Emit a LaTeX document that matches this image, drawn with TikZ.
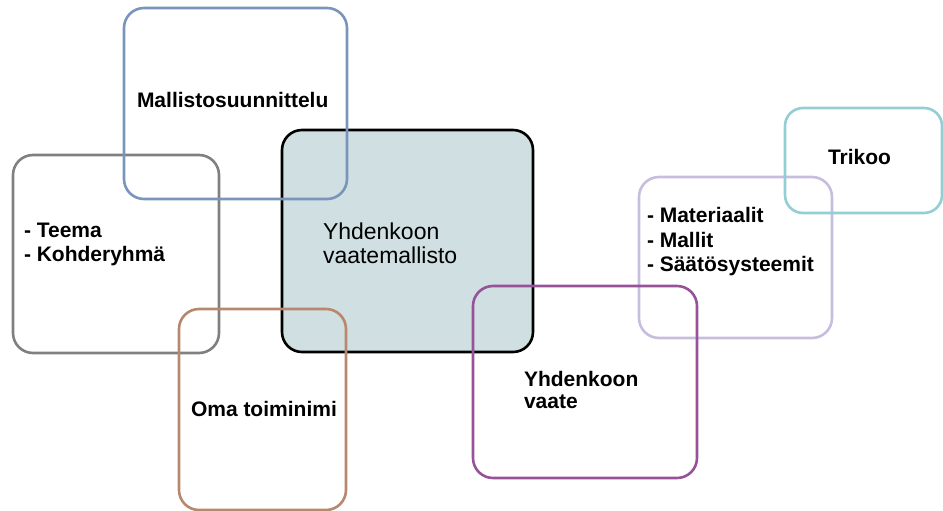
\documentclass[tikz,border=0pt]{standalone}
\usepackage{fontspec}
\setmainfont{Liberation Sans}
\definecolor{cblue}{RGB}{122,148,186}
\definecolor{cgray}{RGB}{128,128,128}
\definecolor{cfill}{RGB}{207,223,226}
\definecolor{cbrown}{RGB}{183,136,110}
\definecolor{cpurple}{RGB}{152,82,154}
\definecolor{clav}{RGB}{198,190,220}
\definecolor{ccyan}{RGB}{146,206,212}
\tikzset{
  box/.style={draw, line width=2.6pt, rounded corners=20pt, inner sep=0pt, outer sep=0pt, anchor=north west},
  lbl/.style={inner sep=0pt, outer sep=0pt, anchor=base west, font=\fontsize{21}{25}\selectfont\bfseries},
  clbl/.style={inner sep=0pt, outer sep=0pt, anchor=base west, font=\fontsize{23}{25}\selectfont},
}
\begin{document}
\begin{tikzpicture}[x=1pt,y=-1pt]
\useasboundingbox (0,0) rectangle (943,511);
% center box
\node[box, draw=black, fill=cfill, minimum width=251pt, minimum height=222pt] (c) at (282,130) {};
% other boxes
\node[box, draw=cgray, minimum width=206pt, minimum height=198pt] (t) at (13,155) {};
\node[box, draw=cblue, minimum width=223pt, minimum height=191pt] (m) at (124,8) {};
\node[box, draw=cbrown, minimum width=167pt, minimum height=201pt] (o) at (179,309) {};
\node[box, draw=clav, minimum width=193pt, minimum height=161pt] (ma) at (639,177) {};
\node[box, draw=cpurple, minimum width=224pt, minimum height=192pt] (v) at (473,286) {};
\node[box, draw=ccyan, rounded corners=18pt, minimum width=157pt, minimum height=105pt] (tr) at (785,108) {};
% texts
\node[lbl] (mt) at (137,107) {Mallistosuunnittelu};
\node[lbl] (t1) at (24,237) {- Teema};
\node[lbl] (t2) at (24,261) {- Kohderyhmä};
\node[clbl] (c1) at (323,239) {Yhdenkoon};
\node[clbl] (c2) at (323,263) {vaatemallisto};
\node[lbl] (ot) at (191,416) {Oma toiminimi};
\node[lbl] (v1) at (524,386) {Yhdenkoon};
\node[lbl] (v2) at (524,408) {vaate};
\node[lbl] (m1) at (647,222) {- Materiaalit};
\node[lbl] (m2) at (647,247) {- Mallit};
\node[lbl] (m3) at (647,271) {- Säätösysteemit};
\node[lbl] (trt) at (828,164) {Trikoo};
\end{tikzpicture}
\end{document}
